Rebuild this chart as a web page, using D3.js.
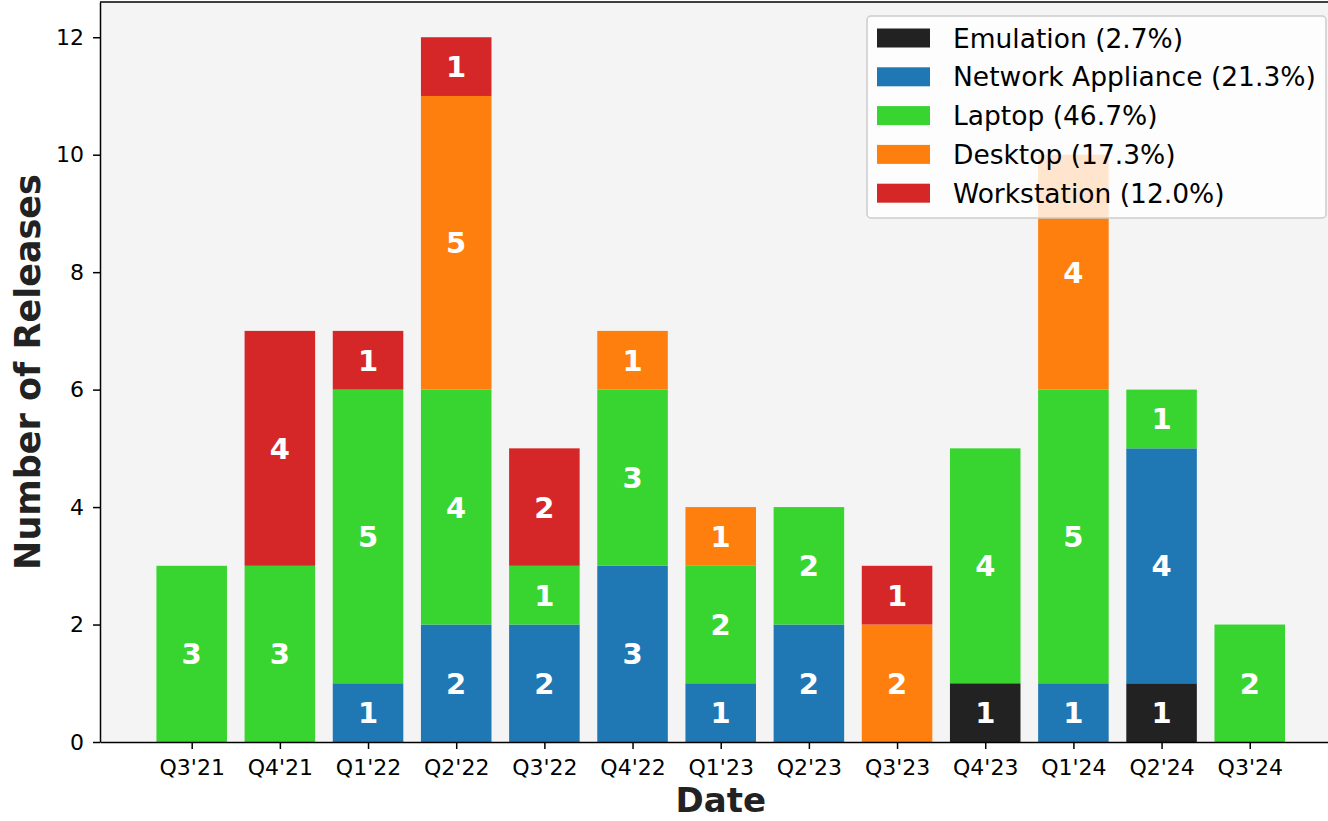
<!DOCTYPE html>
<html>
<head>
<meta charset="utf-8">
<script src="https://cdn.jsdelivr.net/npm/d3@7"></script>
<style>
  body { margin: 0; background: #fff; }
  text { font-family: "DejaVu Sans", sans-serif; }
</style>
</head>
<body>
<div id="chart"></div>
<script>
const width = 1328;
const height = 821;

// Data
const quarters = ["Q3'21", "Q4'21", "Q1'22", "Q2'22", "Q3'22", "Q4'22", "Q1'23", "Q2'23", "Q3'23", "Q4'23", "Q1'24", "Q2'24", "Q3'24"];
const categories = ["Emulation", "Network Appliance", "Laptop", "Desktop", "Workstation"];
const emulation   = [0, 0, 0, 0, 0, 0, 0, 0, 0, 1, 0, 1, 0];
const network     = [0, 0, 1, 2, 2, 3, 1, 2, 0, 0, 1, 4, 0];
const laptop      = [3, 3, 5, 4, 1, 3, 2, 2, 0, 4, 5, 1, 2];
const desktop     = [0, 0, 0, 5, 0, 1, 1, 0, 2, 0, 4, 0, 0];
const workstation = [0, 4, 1, 1, 2, 0, 0, 0, 1, 0, 0, 0, 0];
const yTicks = [0, 2, 4, 6, 8, 10, 12];

const colors = ["#222222", "#1f77b4", "#38d430", "#ff7f0e", "#d62728"];
const series = [emulation, network, laptop, desktop, workstation];

const rows = quarters.map((q, i) => {
    const r = {quarter: q, idx: i};
    categories.forEach((c, k) => r[c] = series[k][i]);
    return r;
});
const stacked = d3.stack().keys(categories)(rows);

const grand = d3.sum(series.map(s => d3.sum(s)));

// Layout
const plotLeft = 100, plotTop = 2, plotBottom = 742;
const x = d3.scaleLinear().domain([-1.04, 13.04]).range([plotLeft, plotLeft + 88.17 * 14.08]);
const y = d3.scaleLinear().domain([0, 12.6]).range([plotBottom, plotTop]);
const barW = 0.8;

const svg = d3.select("#chart").append("svg")
    .attr("width", width)
    .attr("height", height);

svg.append("rect")
    .attr("x", plotLeft).attr("y", plotTop)
    .attr("width", x(13.04) - plotLeft).attr("height", plotBottom - plotTop)
    .attr("fill", "#f4f4f4");

// Bars
stacked.forEach((layer, k) => {
    const segs = layer.filter(d => d[1] - d[0] > 0);
    const g = svg.append("g");
    g.selectAll("rect")
        .data(segs)
        .enter()
        .append("rect")
        .attr("x", d => x(d.data.idx - barW / 2))
        .attr("width", x(barW) - x(0))
        .attr("y", d => y(d[1]))
        .attr("height", d => y(d[0]) - y(d[1]))
        .attr("fill", colors[k]);
    g.selectAll("text")
        .data(segs)
        .enter()
        .append("text")
        .attr("x", d => x(d.data.idx))
        .attr("y", d => y((d[0] + d[1]) / 2))
        .attr("dy", "0.36em")
        .attr("text-anchor", "middle")
        .attr("fill", "white")
        .attr("font-weight", "bold")
        .attr("font-size", 29)
        .text(d => d[1] - d[0]);
});

// Axes
const xAxis = svg.append("g")
    .attr("transform", `translate(0,${plotBottom})`)
    .call(d3.axisBottom(x).tickValues(d3.range(quarters.length)).tickFormat(i => quarters[i]).tickSize(7).tickPadding(10).tickSizeOuter(0));
const yAxis = svg.append("g")
    .attr("transform", `translate(${plotLeft},0)`)
    .call(d3.axisLeft(y).tickValues(yTicks).tickSize(7).tickPadding(9).tickSizeOuter(0));
[xAxis, yAxis].forEach(a => {
    a.selectAll("text").attr("font-size", 22).attr("fill", "#000");
    a.selectAll("line").attr("stroke", "#000").attr("stroke-width", 1.5);
    a.select(".domain").attr("stroke", "#000").attr("stroke-width", 1.5);
});
// top spine
svg.append("line")
    .attr("x1", plotLeft).attr("x2", width).attr("y1", plotTop).attr("y2", plotTop)
    .attr("stroke", "#000").attr("stroke-width", 1.5);

// Axis titles
svg.append("text")
    .attr("x", x(6)).attr("y", 812)
    .attr("text-anchor", "middle")
    .attr("font-size", 34).attr("font-weight", "bold").attr("fill", "#222")
    .text("Date");
svg.append("text")
    .attr("transform", `translate(40,${(plotTop + plotBottom) / 2}) rotate(-90)`)
    .attr("text-anchor", "middle")
    .attr("font-size", 35).attr("font-weight", "bold").attr("fill", "#222")
    .text("Number of Releases");

// Legend
const legend = svg.append("g");
legend.append("rect")
    .attr("x", 867).attr("y", 16).attr("width", 459).attr("height", 202)
    .attr("rx", 4)
    .attr("fill", "white").attr("fill-opacity", 0.8)
    .attr("stroke", "#cccccc").attr("stroke-width", 1.5);
categories.forEach((c, k) => {
    const cy = 38 + k * 38.8;
    legend.append("rect")
        .attr("x", 877).attr("y", cy - 9.5).attr("width", 53).attr("height", 19)
        .attr("fill", colors[k]);
    const total = d3.sum(series[k]);
    legend.append("text")
        .attr("x", 953).attr("y", cy).attr("dy", "0.36em")
        .attr("font-size", 26.5).attr("fill", "#000")
        .text(`${c} (${(total / grand * 100).toFixed(1)}%)`);
});
</script>
</body>
</html>
